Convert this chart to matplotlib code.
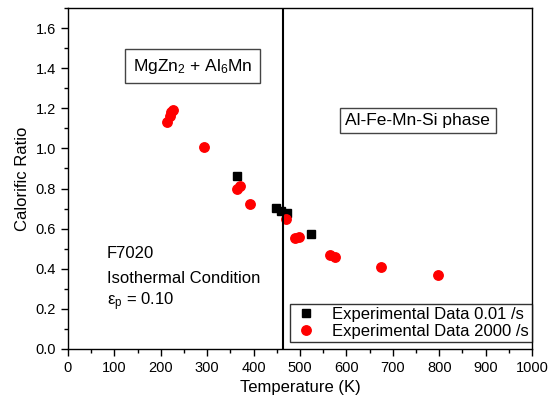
import matplotlib
matplotlib.use("Agg")
import matplotlib.pyplot as plt
from matplotlib.ticker import MultipleLocator

plt.rcParams['font.family'] = ['Liberation Sans', 'DejaVu Sans']
plt.rcParams['mathtext.fontset'] = 'custom'
plt.rcParams['mathtext.rm'] = 'Liberation Sans'
plt.rcParams['mathtext.it'] = 'Liberation Sans'

# Data
temp_slow = [364, 448, 458, 473, 524]
ratio_slow = [0.86, 0.705, 0.69, 0.68, 0.575]

temp_fast = [213, 219, 223, 226, 293, 364, 370, 392, 470, 490, 497, 565, 575, 675, 797]
ratio_fast = [1.13, 1.16, 1.18, 1.19, 1.005, 0.80, 0.815, 0.725, 0.648, 0.555, 0.56, 0.47, 0.46, 0.41, 0.367]

phase_boundary = 463

fig = plt.figure(figsize=(5.6, 4.07), dpi=100)
ax = fig.add_axes([68/560, 1-349/407, (532-68)/560, (349-8)/407])

ax.plot(temp_slow, ratio_slow, 's', color='black', markersize=5.8, linestyle='none',
        label='Experimental Data 0.01 /s')
ax.plot(temp_fast, ratio_fast, 'o', color='red', markersize=6.8, linestyle='none',
        label='Experimental Data 2000 /s')
ax.axvline(phase_boundary, color='black', linewidth=1.5)

ax.set_xlim(0, 1000)
ax.set_ylim(0, 1.7)
ax.xaxis.set_major_locator(MultipleLocator(100))
ax.xaxis.set_minor_locator(MultipleLocator(50))
ax.yaxis.set_major_locator(MultipleLocator(0.2))
ax.yaxis.set_minor_locator(MultipleLocator(0.1))
ax.yaxis.set_major_formatter(matplotlib.ticker.FormatStrFormatter('%.1f'))
ax.tick_params(which='major', direction='out', length=5, width=1, labelsize=10.5)
ax.tick_params(which='minor', direction='out', length=3, width=1)
for s in ax.spines.values():
    s.set_linewidth(1)

ax.set_xlabel('Temperature (K)', fontsize=12, labelpad=4)
ax.set_ylabel('Calorific Ratio', fontsize=12, labelpad=4)

box1 = dict(boxstyle='square,pad=0.45', facecolor='white', edgecolor='#444444', linewidth=1)
box2 = dict(boxstyle='square,pad=0.3', facecolor='white', edgecolor='#444444', linewidth=1)
ax.text(268, 1.41, r'MgZn$_2$ + Al$_6$Mn', fontsize=12.5, ha='center', va='center', bbox=box1)
ax.text(754, 1.14, 'Al-Fe-Mn-Si phase', fontsize=12.5, ha='center', va='center', bbox=box2)

ax.text(84, 0.475, 'F7020', fontsize=12, ha='left', va='center')
ax.text(84, 0.35, 'Isothermal Condition', fontsize=12, ha='left', va='center')
ax.text(84, 0.235, r'ε$_\mathrm{p}$ = 0.10', fontsize=12, ha='left', va='center')

leg = ax.legend(loc='lower right', bbox_to_anchor=(1.0, 7/341), borderaxespad=0,
                fontsize=12, frameon=True, fancybox=False, handletextpad=0.8,
                borderpad=0.2, labelspacing=0.1, handlelength=1.5)
leg.get_frame().set_edgecolor('black')
leg.get_frame().set_linewidth(1)

fig.savefig('out.png', dpi=100)
